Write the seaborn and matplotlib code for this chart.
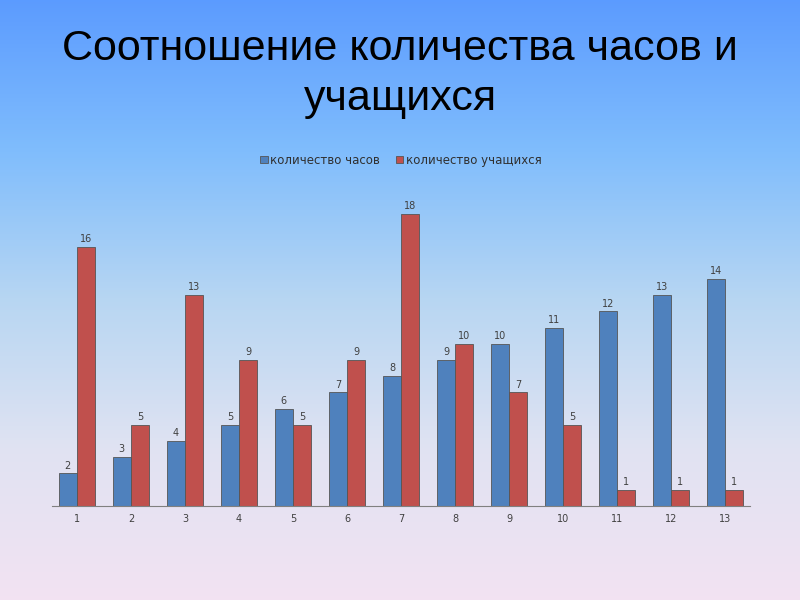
import numpy as np
import pandas as pd
import matplotlib.pyplot as plt
import seaborn as sns

categories = [str(i) for i in range(1, 14)]
hours = [2, 3, 4, 5, 6, 7, 8, 9, 10, 11, 12, 13, 14]
students = [16, 5, 13, 9, 5, 9, 18, 10, 7, 5, 1, 1, 1]
series_names = ["количество часов", "количество учащихся"]

df = pd.DataFrame({
    "cat": categories * 2,
    "value": hours + students,
    "series": [series_names[0]] * 13 + [series_names[1]] * 13,
})

sns.set_style("white")
plt.rcParams["font.family"] = ["Liberation Sans", "DejaVu Sans"]

fig = plt.figure(figsize=(8, 6), dpi=100)

# background gradient: blue at top, light lavender at bottom
bg = fig.add_axes([0, 0, 1, 1], zorder=-10)
stops = np.array([[0.36, 0.61, 1.00],
                  [0.50, 0.74, 0.99],
                  [0.72, 0.84, 0.95],
                  [0.88, 0.89, 0.95],
                  [0.95, 0.89, 0.95]])
t = np.linspace(0, 1, 300)
pos = np.linspace(0, 1, len(stops))
grad = np.stack([np.interp(t, pos, stops[:, c]) for c in range(3)], axis=-1)
bg.imshow(grad[:, None, :], aspect="auto", extent=[0, 1, 0, 1])
bg.set_axis_off()

fig.text(0.5, 0.918, "Соотношение количества часов и", ha="center", va="center",
         fontsize=31, color="black")
fig.text(0.5, 0.835, "учащихся", ha="center", va="center",
         fontsize=31, color="black")

ax = fig.add_axes([0.065, 0.157, 0.8725, 0.513])
ax.patch.set_alpha(0)
sns.barplot(data=df, x="cat", y="value", hue="series",
            palette=["#4F81BD", "#C0504D"], saturation=1, width=0.67, gap=0,
            edgecolor="#555555", linewidth=0.6, ax=ax)

for cont in ax.containers:
    ax.bar_label(cont, fontsize=7, color="#404040", padding=2, family="DejaVu Sans")

ax.set_ylim(0, 19)
ax.set_xlim(-0.46, 12.46)
ax.set_xlabel("")
ax.set_ylabel("")
ax.set_yticks([])
for s in ["left", "right", "top"]:
    ax.spines[s].set_visible(False)
ax.spines["bottom"].set_color("#808080")
ax.tick_params(axis="x", length=0, labelsize=7, labelcolor="#404040", pad=6)
for lab in ax.get_xticklabels():
    lab.set_family("DejaVu Sans")

leg = ax.legend(loc="center", bbox_to_anchor=(0.5, 1.123), ncol=2, frameon=False,
                prop={"family": "DejaVu Sans", "size": 8.5},
                handlelength=0.6, handleheight=0.6, handletextpad=0.2,
                columnspacing=1.4)
for txt in leg.get_texts():
    txt.set_color("#303030")

fig.savefig("out.png", dpi=100)
